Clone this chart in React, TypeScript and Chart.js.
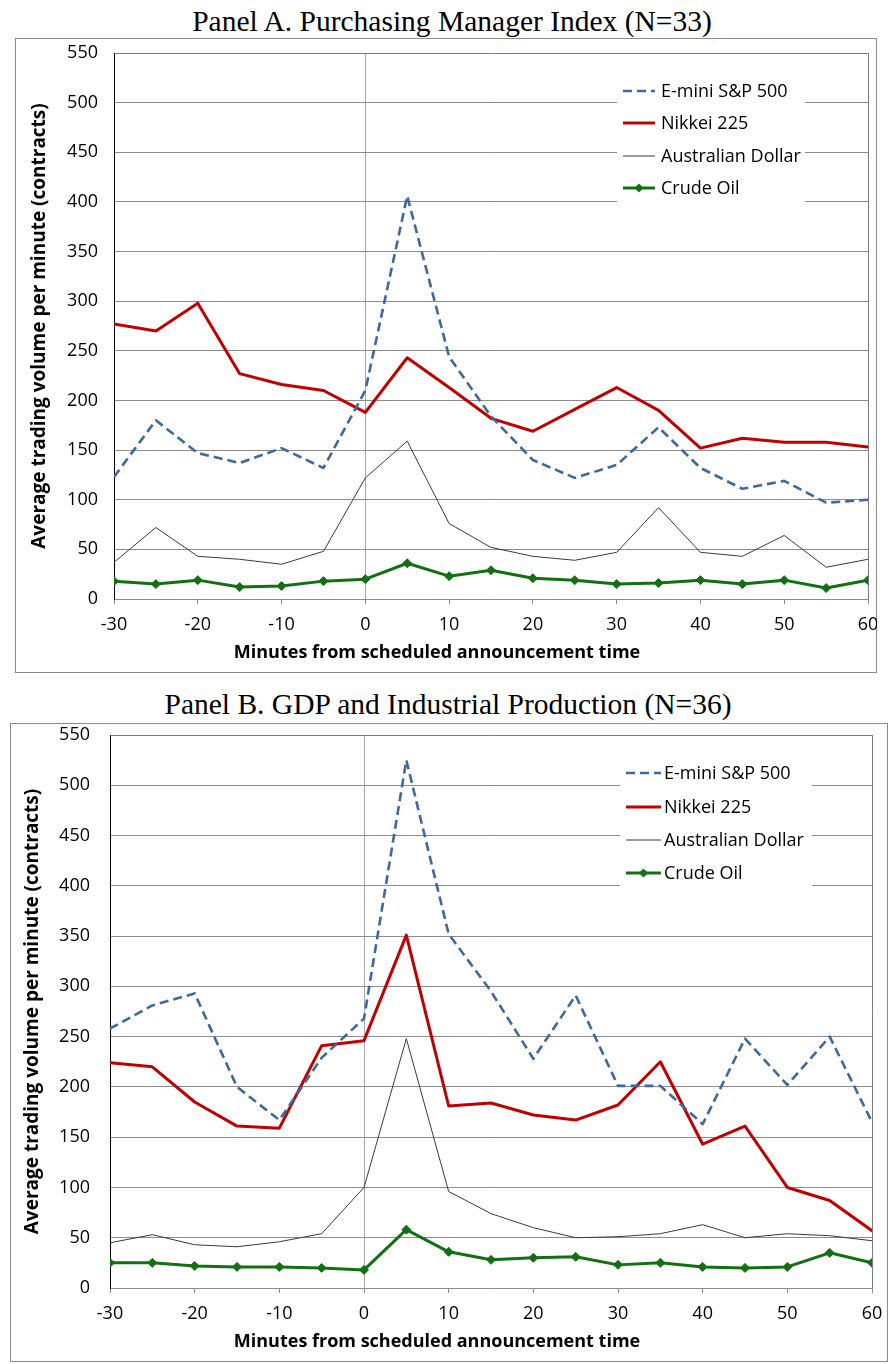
import React, { useEffect, useRef } from 'react';
import { Chart, registerables } from 'chart.js';
Chart.register(...registerables);

// ---------- data ----------
const minutes = [-30, -25, -20, -15, -10, -5, 0, 5, 10, 15, 20, 25, 30, 35, 40, 45, 50, 55, 60];
const seriesNames = ['E-mini S&P 500', 'Nikkei 225', 'Australian Dollar', 'Crude Oil'];

// Panel A: Purchasing Manager Index (N=33)
const pmiEmini = [123, 180, 147, 137, 152, 132, 210, 406, 244, 184, 140, 122, 135, 173, 132, 111, 119, 97, 100];
const pmiNikkei = [277, 270, 298, 227, 216, 210, 188, 243, 213, 182, 169, 191, 213, 190, 152, 162, 158, 158, 153];
const pmiAud = [37, 72, 43, 40, 35, 48, 122, 159, 76, 52, 43, 39, 47, 92, 47, 43, 64, 32, 40];
const pmiCrude = [18, 15, 19, 12, 13, 18, 20, 36, 23, 29, 21, 19, 15, 16, 19, 15, 19, 11, 19];

// Panel B: GDP and Industrial Production (N=36)
const gdpEmini = [258, 281, 293, 200, 167, 229, 268, 525, 352, 295, 228, 291, 201, 201, 163, 248, 202, 250, 165];
const gdpNikkei = [224, 220, 185, 161, 159, 241, 246, 351, 181, 184, 172, 167, 182, 225, 143, 161, 100, 87, 57];
const gdpAud = [45, 53, 43, 41, 46, 54, 100, 248, 96, 74, 60, 50, 51, 54, 63, 50, 54, 52, 47];
const gdpCrude = [25, 25, 22, 21, 21, 20, 18, 58, 36, 28, 30, 31, 23, 25, 21, 20, 21, 35, 25];

const yMin = 0;
const yMax = 550;
const yStep = 50;
const xMin = -30;
const xMax = 60;
const xStep = 10;

const yTitle = 'Average trading volume per minute (contracts)';
const xTitle = 'Minutes from scheduled announcement time';

// ---------- styles ----------
const FONT = '"Open Sans"';
const seriesStyles = [
  { color: '#3f699c', width: 2.6, dash: [9, 5], marker: false },
  { color: '#c00000', width: 3, dash: [] as number[], marker: false },
  { color: '#3a3a3a', width: 1, dash: [] as number[], marker: false },
  { color: '#127012', width: 3, dash: [] as number[], marker: true },
];

const legendPlugin = {
  id: 'boxLegend',
  afterDatasetsDraw(chart: any, _args: any, opts: any) {
    const ctx = chart.ctx;
    ctx.save();
    ctx.fillStyle = '#ffffff';
    ctx.fillRect(opts.bgX, opts.bgY, opts.bgW, opts.bgH);
    chart.data.datasets.forEach((ds: any, i: number) => {
      const y = opts.rows[i];
      ctx.strokeStyle = ds.borderColor;
      ctx.lineWidth = ds.borderWidth;
      ctx.setLineDash(ds.borderDash || []);
      ctx.beginPath();
      ctx.moveTo(opts.x0, y);
      ctx.lineTo(opts.x1, y);
      ctx.stroke();
      ctx.setLineDash([]);
      if (ds.pointRadius > 0) {
        const cx = (opts.x0 + opts.x1) / 2;
        const r = ds.pointRadius;
        ctx.fillStyle = ds.borderColor;
        ctx.beginPath();
        ctx.moveTo(cx, y - r);
        ctx.lineTo(cx + r, y);
        ctx.lineTo(cx, y + r);
        ctx.lineTo(cx - r, y);
        ctx.closePath();
        ctx.fill();
      }
      ctx.fillStyle = '#000000';
      ctx.font = `18px ${FONT}`;
      ctx.textAlign = 'left';
      ctx.textBaseline = 'middle';
      ctx.fillText(ds.label, opts.textX, y + 1);
    });
    ctx.restore();
  },
};

type Layout = {
  width: number;
  height: number;
  yAxisWidth: number;
  padTop: number;
  padRight: number;
  xAxisHeight: number;
  yTickPad: number;
  yTitlePad: number;
  xTitleCenter: number;
  legend: any;
};

function makeConfig(values: number[][], L: Layout): any {
  const datasets = values.map((arr, i) => {
    const s = seriesStyles[i];
    return {
      label: seriesNames[i],
      data: minutes.map((m, k) => ({ x: m, y: arr[k] })),
      borderColor: s.color,
      backgroundColor: s.color,
      borderWidth: s.width,
      borderDash: s.dash,
      borderJoinStyle: 'round',
      borderCapStyle: s.dash.length ? 'butt' : 'round',
      pointRadius: s.marker ? 4.5 : 0,
      pointStyle: 'rectRot',
      pointBackgroundColor: s.color,
      pointBorderColor: s.color,
      pointBorderWidth: 1,
      tension: 0,
      fill: false,
    };
  });
  return {
    type: 'line',
    data: { datasets },
    plugins: [legendPlugin],
    options: {
      animation: false,
      responsive: false,
      maintainAspectRatio: false,
      devicePixelRatio: 1,
      events: [],
      layout: { padding: { top: L.padTop, right: L.padRight, left: 0, bottom: 0 } },
      plugins: {
        legend: { display: false },
        tooltip: { enabled: false },
        title: { display: false },
        boxLegend: L.legend,
      },
      scales: {
        x: {
          type: 'linear',
          min: xMin,
          max: xMax,
          afterFit: (scale: any) => {
            scale.height = L.xAxisHeight;
            scale.paddingLeft = 0;
            scale.paddingRight = 0;
          },
          ticks: {
            stepSize: xStep,
            color: '#000000',
            font: { family: FONT, size: 18 },
            padding: 10,
            maxRotation: 0,
            autoSkip: false,
          },
          grid: {
            drawTicks: true,
            tickLength: 5,
            tickColor: '#8c8c8c',
            lineWidth: 1,
            color: (c: any) => {
              const v = c.tick ? c.tick.value : null;
              if (v === 0) return '#a8a8a8';
              if (v === xMax) return '#7a7a7a';
              return 'rgba(0,0,0,0)';
            },
          },
          border: { display: true, color: '#8c8c8c', width: 1 },
          title: { display: false },
        },
        y: {
          type: 'linear',
          min: yMin,
          max: yMax,
          afterFit: (scale: any) => {
            scale.width = L.yAxisWidth;
            scale.paddingTop = 0;
            scale.paddingBottom = 0;
          },
          ticks: {
            stepSize: yStep,
            color: '#000000',
            font: { family: FONT, size: 18 },
            padding: L.yTickPad,
          },
          grid: {
            drawTicks: false,
            lineWidth: 1,
            color: (c: any) => (c.tick && c.tick.value === yMax ? '#7a7a7a' : '#8c8c8c'),
          },
          border: { display: true, color: '#000000', width: 1 },
          title: {
            display: true,
            text: yTitle,
            color: '#000000',
            font: { family: FONT, size: 19, weight: 'bold' },
            padding: { top: L.yTitlePad, bottom: 0 },
          },
        },
      },
    },
  };
}

function ChartBox(props: { left: number; top: number; values: number[][]; layout: Layout }) {
  const ref = useRef<HTMLCanvasElement | null>(null);
  useEffect(() => {
    if (!ref.current) return;
    const chart = new Chart(ref.current, makeConfig(props.values, props.layout));
    return () => chart.destroy();
  }, []);
  const { left, top, layout } = props;
  return (
    <>
      <div
        style={{
          position: 'absolute',
          left,
          top,
          width: layout.width,
          height: layout.height,
          border: '1px solid #8a8a8a',
          boxSizing: 'border-box',
          background: '#ffffff',
        }}
      />
      <canvas
        ref={ref}
        width={layout.width}
        height={layout.height}
        style={{ position: 'absolute', left, top, width: layout.width, height: layout.height }}
      />
      <div
        style={{
          position: 'absolute',
          left: layout.xTitleCenter,
          top: top + layout.height - 34,
          transform: 'translateX(-50%)',
          fontFamily: FONT,
          fontWeight: 'bold',
          fontSize: 18,
          lineHeight: '24px',
          color: '#000',
          whiteSpace: 'nowrap',
        }}
      >
        {xTitle}
      </div>
    </>
  );
}

const titleStyle = (top: number, center: number): React.CSSProperties => ({
  position: 'absolute',
  left: center,
  top,
  transform: 'translateX(-50%)',
  fontFamily: '"Liberation Serif", "Times New Roman", serif',
  fontSize: 29.5,
  lineHeight: '32px',
  color: '#000',
  whiteSpace: 'nowrap',
});

const layoutA: Layout = {
  width: 862,
  height: 635,
  yAxisWidth: 99,
  padTop: 15,
  padRight: 9,
  xAxisHeight: 74,
  yTickPad: 16,
  yTitlePad: 13,
  xTitleCenter: 437,
  legend: { bgX: 602, bgY: 33, bgW: 188, bgH: 135, x0: 608, x1: 640, textX: 646, rows: [53, 85, 118, 150] },
};

const layoutB: Layout = {
  width: 878,
  height: 639,
  yAxisWidth: 100,
  padTop: 12,
  padRight: 16,
  xAxisHeight: 74,
  yTickPad: 20,
  yTitlePad: 11,
  xTitleCenter: 437,
  legend: { bgX: 610, bgY: 30, bgW: 192, bgH: 138, x0: 616, x1: 651, textX: 654, rows: [50, 84, 117, 150] },
};

export default function App() {
  return (
    <div style={{ position: 'absolute', left: 0, top: 0, width: 891, height: 1364, background: '#ffffff' }}>
      <div style={titleStyle(5, 452)}>Panel A. Purchasing Manager Index (N=33)</div>
      <ChartBox left={15} top={38} values={[pmiEmini, pmiNikkei, pmiAud, pmiCrude]} layout={layoutA} />
      <div style={titleStyle(688, 448)}>Panel B. GDP and Industrial Production (N=36)</div>
      <ChartBox left={10} top={723} values={[gdpEmini, gdpNikkei, gdpAud, gdpCrude]} layout={layoutB} />
    </div>
  );
}
